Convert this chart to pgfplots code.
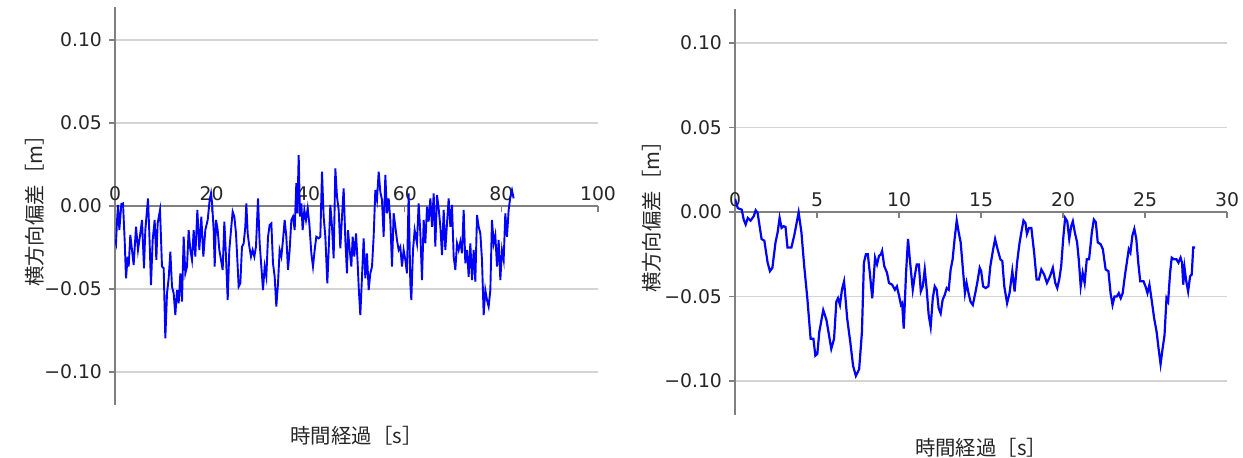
\documentclass[border=0pt]{standalone}
\usepackage{pgfplots}
\pgfplotsset{compat=1.18}
\usepackage{fontspec}
\setmainfont{DejaVu Sans}
\newfontfamily\jp{Noto Sans CJK JP}
\definecolor{gridc}{RGB}{212,212,212}
\definecolor{axc}{RGB}{128,128,128}

\pgfplotstableread{
t y
0.00 -0.020
0.21 -0.0225
0.41 -0.0094
0.62 0.0006
0.90 -0.0145
1.31 0.0012
1.66 0.0016
2.00 -0.0205
2.28 -0.0436
2.62 -0.0305
2.83 -0.0365
3.17 -0.0175
3.52 -0.0265
3.86 -0.0355
4.35 -0.0125
4.76 -0.0265
5.24 -0.0165
5.59 -0.0084
6.00 -0.0375
6.28 -0.0145
6.83 0.0046
7.11 -0.0165
7.45 -0.0476
7.80 -0.0205
8.21 -0.0084
8.56 -0.0325
8.83 -0.0104
9.32 -0.0024
9.73 -0.0365
10.08 -0.0375
10.42 -0.0797
10.77 -0.0526
11.11 -0.0436
11.46 -0.0275
11.80 -0.0486
12.15 -0.0526
12.49 -0.0657
12.84 -0.0506
13.18 -0.0586
13.53 -0.0406
13.87 -0.0576
14.22 -0.0185
14.56 -0.0406
14.91 -0.0365
15.25 -0.0145
15.60 -0.0265
15.94 -0.0325
16.29 -0.0145
16.63 -0.0305
17.05 -0.0024
17.46 -0.0265
17.87 -0.0064
18.29 -0.0305
18.70 -0.0145
19.19 -0.0084
19.60 0.0036
19.88 0.0076
20.10 0.0016
20.43 -0.0145
20.64 -0.0365
20.91 -0.0084
21.26 -0.0145
21.60 -0.0265
21.95 -0.0325
22.29 -0.0385
22.64 -0.0094
22.98 -0.0305
23.33 -0.0566
23.67 -0.0265
24.02 -0.0145
24.36 -0.0034
24.71 -0.0064
25.05 -0.0165
25.40 -0.0365
25.60 -0.0486
25.95 -0.0466
26.29 -0.0245
26.64 -0.0225
26.98 -0.0125
27.19 0.0016
27.47 -0.0165
27.81 -0.0245
28.16 -0.0305
28.50 -0.0265
28.85 -0.0305
29.19 -0.0245
29.61 0.0046
29.95 -0.0225
30.30 -0.0365
30.64 -0.0506
30.99 -0.0365
31.33 -0.0426
31.68 -0.0185
32.02 -0.0114
32.37 -0.0104
32.71 -0.0345
33.06 -0.0426
33.40 -0.0606
33.75 -0.0466
34.09 -0.0265
34.44 -0.0305
34.78 -0.0205
35.13 -0.0084
35.47 -0.0185
35.82 -0.0385
36.16 -0.0265
36.51 -0.0084
36.85 -0.0064
37.20 -0.0145
37.54 0.0137
37.75 -0.0044
38.03 0.0307
38.30 -0.0064
38.58 0.0016
38.85 -0.0145
39.20 -0.0024
39.54 -0.0084
39.89 -0.0014
40.23 -0.0104
40.65 -0.0285
40.99 -0.0365
41.34 -0.0265
41.68 -0.0185
42.17 -0.0195
42.51 -0.0185
42.86 0.0207
43.20 -0.0064
43.55 -0.0185
43.96 -0.0466
44.24 -0.0265
44.58 0.0006
44.93 -0.0125
45.27 -0.0315
45.62 0.0227
45.96 0.0056
46.31 -0.0024
46.65 -0.0255
47.00 -0.0064
47.34 0.0106
47.69 -0.0205
48.03 -0.0406
48.24 -0.0145
48.59 -0.0265
48.93 -0.0365
49.21 -0.0185
49.55 -0.0305
49.90 -0.0165
50.24 -0.0345
50.45 -0.0486
50.79 -0.0657
51.14 -0.0426
51.48 -0.0195
51.83 -0.0436
52.17 -0.0285
52.52 -0.0506
52.86 -0.0406
53.21 -0.0365
53.55 -0.0185
53.90 0.0096
54.24 0.0036
54.59 0.0207
54.93 0.0086
55.28 0.0036
55.62 -0.0185
55.97 0.0187
56.31 -0.0044
56.66 0.0046
57.00 -0.0084
57.35 -0.0365
57.69 -0.0044
58.04 -0.0125
58.38 -0.0205
58.73 -0.0265
59.07 -0.0245
59.42 -0.0365
59.76 -0.0265
60.11 -0.0325
60.45 -0.0406
60.80 0.0076
61.14 -0.0466
61.35 -0.0566
61.70 -0.0265
62.04 -0.0145
62.52 -0.0225
62.87 0.0016
63.22 -0.0165
63.56 -0.0446
63.91 -0.0084
64.25 -0.0225
64.60 -0.0004
64.94 -0.0094
65.29 0.0046
65.63 -0.0125
65.98 0.0076
66.32 -0.0245
66.67 0.0066
67.01 -0.0014
67.36 -0.0125
67.70 -0.0295
68.05 -0.0024
68.39 -0.0265
68.74 -0.0104
69.08 0.0046
69.43 -0.0125
69.77 0.0006
70.12 -0.0305
70.46 -0.0385
70.81 -0.0225
71.15 -0.0265
71.50 -0.0215
71.84 -0.0285
72.19 -0.0024
72.53 -0.0345
72.88 -0.0265
73.22 -0.0426
73.57 -0.0225
73.91 -0.0446
74.26 -0.0265
74.60 -0.0456
74.95 -0.0054
75.29 -0.0125
75.64 -0.0165
75.98 -0.0325
76.33 -0.0657
76.67 -0.0506
77.02 -0.0566
77.36 -0.0606
77.71 -0.0506
78.05 -0.0084
78.40 -0.0225
78.74 -0.0175
79.09 -0.0365
79.43 -0.0205
79.78 -0.0446
80.12 -0.0265
80.47 -0.0325
80.81 -0.0044
81.16 -0.0185
81.50 -0.0024
81.85 0.0056
82.19 0.0096
82.53 0.0046
}\lefttable

\pgfplotstableread{
t y
0.00 0.0078
0.17 0.0023
0.41 0.0014
0.53 -0.0045
0.65 -0.0074
0.78 -0.0035
0.95 -0.0051
1.14 -0.0025
1.26 0.0010
1.38 -0.0006
1.62 -0.0160
1.79 -0.0170
1.99 -0.0300
2.13 -0.0350
2.28 -0.0330
2.47 -0.0180
2.60 -0.0120
2.72 -0.0035
2.84 -0.0094
2.96 -0.0084
3.08 -0.0088
3.20 -0.0210
3.44 -0.0210
3.61 -0.0140
3.88 -0.0002
4.05 -0.0120
4.22 -0.0320
4.41 -0.0510
4.61 -0.0750
4.78 -0.0750
4.90 -0.0850
5.02 -0.0840
5.14 -0.0710
5.38 -0.0580
5.58 -0.0640
5.87 -0.0810
6.04 -0.0750
6.18 -0.0530
6.28 -0.0510
6.40 -0.0550
6.52 -0.0460
6.65 -0.0410
6.84 -0.0630
7.03 -0.0770
7.20 -0.0910
7.37 -0.0970
7.57 -0.0930
7.74 -0.0710
7.86 -0.0300
7.98 -0.0250
8.10 -0.0250
8.22 -0.0360
8.37 -0.0510
8.54 -0.0270
8.66 -0.0310
8.78 -0.0260
8.90 -0.0250
8.97 -0.0230
9.10 -0.0320
9.27 -0.0360
9.39 -0.0420
9.58 -0.0430
9.75 -0.0460
9.87 -0.0440
9.99 -0.0490
10.12 -0.0550
10.19 -0.0540
10.29 -0.0690
10.43 -0.0360
10.55 -0.0160
10.68 -0.0300
10.84 -0.0460
10.96 -0.0380
11.08 -0.0310
11.21 -0.0310
11.33 -0.0470
11.45 -0.0440
11.57 -0.0340
11.69 -0.0460
11.81 -0.0610
11.93 -0.0680
12.06 -0.0510
12.18 -0.0440
12.30 -0.0460
12.42 -0.0570
12.54 -0.0600
12.66 -0.0520
12.79 -0.0490
12.91 -0.0450
13.03 -0.0460
13.15 -0.0340
13.27 -0.0280
13.39 -0.0160
13.52 -0.0050
13.64 -0.0120
13.76 -0.0180
13.88 -0.0320
14.02 -0.0480
14.12 -0.0420
14.24 -0.0480
14.36 -0.0530
14.50 -0.0550
14.65 -0.0480
14.77 -0.0420
14.92 -0.0330
15.01 -0.0350
15.13 -0.0440
15.28 -0.0450
15.45 -0.0440
15.57 -0.0320
15.74 -0.0220
15.86 -0.0160
16.01 -0.0220
16.18 -0.0280
16.30 -0.0290
16.42 -0.0440
16.59 -0.0540
16.74 -0.0480
16.91 -0.0350
17.05 -0.0470
17.20 -0.0300
17.34 -0.0190
17.46 -0.0120
17.59 -0.0050
17.71 -0.0065
17.80 -0.0130
17.93 -0.0094
18.07 -0.0094
18.24 -0.0240
18.39 -0.0400
18.53 -0.0400
18.68 -0.0340
18.85 -0.0370
19.02 -0.0420
19.21 -0.0380
19.38 -0.0330
19.53 -0.0420
19.65 -0.0450
19.77 -0.0400
19.89 -0.0320
20.01 -0.0160
20.13 -0.0035
20.26 -0.0055
20.38 -0.0160
20.50 -0.0084
20.60 -0.0055
20.72 -0.0120
20.86 -0.0180
20.96 -0.0280
21.08 -0.0440
21.20 -0.0360
21.32 -0.0420
21.45 -0.0280
21.59 -0.0280
21.76 -0.0120
21.88 -0.0045
22.00 -0.0060
22.12 -0.0180
22.29 -0.0190
22.43 -0.0220
22.60 -0.0340
22.77 -0.0350
22.90 -0.0480
23.02 -0.0550
23.14 -0.0500
23.28 -0.0500
23.40 -0.0480
23.52 -0.0510
23.64 -0.0480
23.77 -0.0380
23.89 -0.0300
24.01 -0.0220
24.11 -0.0240
24.23 -0.0140
24.35 -0.0100
24.47 -0.0160
24.59 -0.0300
24.71 -0.0410
24.91 -0.0410
25.03 -0.0440
25.15 -0.0480
25.27 -0.0430
25.39 -0.0510
25.56 -0.0630
25.71 -0.0710
25.83 -0.0810
25.95 -0.0900
26.07 -0.0810
26.19 -0.0730
26.31 -0.0510
26.41 -0.0530
26.53 -0.0360
26.63 -0.0270
26.77 -0.0280
26.92 -0.0280
27.04 -0.0300
27.17 -0.0270
27.26 -0.0300
27.33 -0.0430
27.41 -0.0330
27.50 -0.0400
27.63 -0.0470
27.75 -0.0380
27.85 -0.0370
27.94 -0.0210
28.06 -0.0210
}\righttable

\pgfplotsset{
  myax/.style={
    scale only axis,
    axis x line=middle,
    axis y line=left,
    axis line style={-, axc, line width=0.6pt},
    ymin=-0.12, ymax=0.12,
    ytick={-0.1,-0.05,0,0.05,0.1},
    yticklabels={−0.10,−0.05,0.00,0.05,0.10},
    ymajorgrids,
    major grid style={gridc, line width=0.6pt},
    tick style={axc, line width=0.6pt},
    major tick length=3pt,
    tick align=outside,
    hide obscured x ticks=false,
    /pgf/number format/assume math mode=true,
    xticklabel style={anchor=south, yshift=2pt, font=\fontsize{9.4}{11}\selectfont, text=black!85},
    yticklabel style={font=\fontsize{9.4}{11}\selectfont, text=black!85},
    every axis x label/.style={at={(rel axis cs:0.5,0)}, anchor=north, font=\jp\fontsize{10.2}{11}\selectfont, text=black!85},
    every axis y label/.style={at={(rel axis cs:0,0.5)}, rotate=90, anchor=south, font=\jp\fontsize{10.2}{11}\selectfont, text=black!85},
  }
}

\begin{document}
\begin{tikzpicture}
\useasboundingbox (0,0) rectangle (621.5pt,228.5pt);
\begin{axis}[myax,
  at={(57.5pt,25.9pt)}, anchor=south west,
  width=241.5pt, height=199.2pt,
  xmin=0, xmax=100,
  xtick={0,20,40,60,80,100},
  xlabel={時間経過［s］},
  ylabel={横方向偏差［m］},
  xlabel style={yshift=-7pt},
  ylabel style={yshift=32pt},
]
\addplot[color={rgb,255:red,0;green,0;blue,255}, line width=0.95pt] table[x=t,y=y] {\lefttable};
\end{axis}
\begin{axis}[myax,
  at={(367.5pt,21.1pt)}, anchor=south west,
  width=246pt, height=202.8pt,
  xmin=0, xmax=30,
  xtick={0,5,10,15,20,25,30},
  xlabel={時間経過［s］},
  ylabel={横方向偏差［m］},
  xlabel style={yshift=-8pt},
  ylabel style={yshift=33.5pt},
]
\addplot[color={rgb,255:red,0;green,0;blue,255}, line width=1.1pt] table[x=t,y=y] {\righttable};
\end{axis}
\end{tikzpicture}
\end{document}
